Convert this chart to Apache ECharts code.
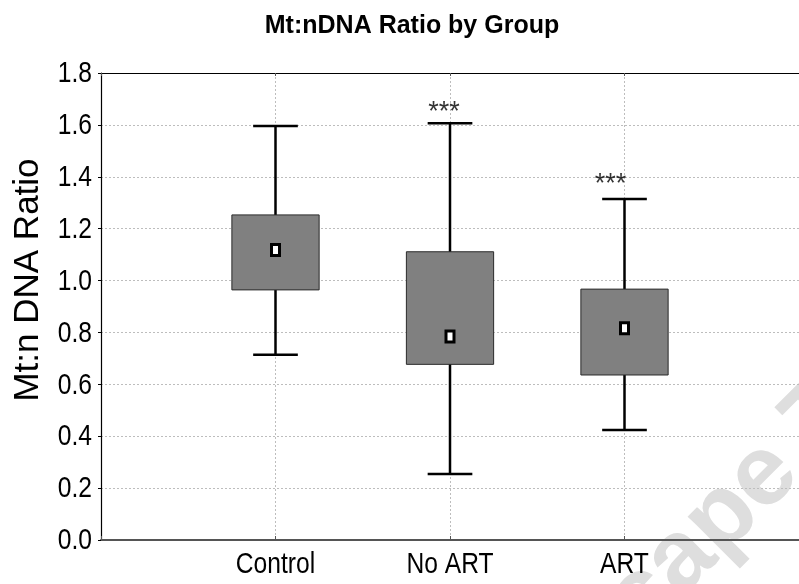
<!DOCTYPE html>
<html><head><meta charset="utf-8">
<script src="https://cdn.jsdelivr.net/npm/echarts@6/dist/echarts.min.js"></script>
<style>html,body{margin:0;padding:0;background:#fff}#c{width:799px;height:584px}</style>
</head><body><div id="c"></div>
<script>
const categories = ['Control', 'No ART', 'ART'];
const catPos = [1, 2, 3];
const whiskerLow = [0.714, 0.254, 0.424];
const q1 = [0.964, 0.677, 0.636];
const median = [1.118, 0.784, 0.816];
const q3 = [1.253, 1.111, 0.967];
const whiskerHigh = [1.596, 1.606, 1.314];
const yTicks = [0, 0.2, 0.4, 0.6, 0.8, 1.0, 1.2, 1.4, 1.6, 1.8];
const yTickLabels = ['0.0', '0.2', '0.4', '0.6', '0.8', '1.0', '1.2', '1.4', '1.6', '1.8'];
const sigLabels = ['***', '***'];
const sigX = [1.966, 2.92];
const sigY = [1.648, 1.37];

const SANS = "'Liberation Sans', Arial, sans-serif";
const NARROW_SCALE = 0.82;

const boxData = catPos.map((x, i) => [x, whiskerLow[i], q1[i], median[i], q3[i], whiskerHigh[i]]);
const sigData = sigX.map((x, i) => ({ value: [x, sigY[i]], label: { formatter: sigLabels[i] } }));

const chart = echarts.init(document.getElementById('c'), null, { renderer: 'canvas' });
chart.setOption({
  animation: false,
  backgroundColor: '#fff',
  grid: { left: 101, right: -4, top: 73, bottom: 44, containLabel: false },
  xAxis: [{
    type: 'value', min: 0, max: 4, interval: 1, position: 'bottom',
    axisLine: { show: true, lineStyle: { color: '#555', width: 2 } },
    axisTick: { show: true, inside: true, length: 4, lineStyle: { color: '#555' } },
    axisLabel: { show: false },
    splitLine: { show: true, lineStyle: { color: '#bdbdbd', width: 1, type: [2, 2] } }
  }, {
    type: 'value', min: 0, max: 4, interval: 1, position: 'top',
    axisLine: { show: true, lineStyle: { color: '#000', width: 1 } },
    axisTick: { show: true, inside: true, length: 3, lineStyle: { color: '#555' } },
    axisLabel: { show: false },
    splitLine: { show: false }
  }],
  yAxis: {
    type: 'value', min: 0, max: 1.8, interval: 0.2,
    axisLine: { show: true, lineStyle: { color: '#000', width: 1.2 } },
    axisTick: { show: true, length: 3, lineStyle: { color: '#000' } },
    axisLabel: { show: false },
    splitLine: { show: true, lineStyle: { color: '#bdbdbd', width: 1, type: [2, 2] } }
  },
  series: [{
    type: 'custom',
    data: boxData,
    encode: { x: 0, y: [1, 2, 3, 4, 5] },
    z: 5,
    renderItem: (params, api) => {
      const x = api.value(0);
      const lo = api.coord([x, api.value(1)]);
      const b1 = api.coord([x, api.value(2)]);
      const md = api.coord([x, api.value(3)]);
      const b3 = api.coord([x, api.value(4)]);
      const hi = api.coord([x, api.value(5)]);
      const boxW = api.size([0.5, 0])[0];
      const capW = api.size([0.256, 0])[0];
      const ls = { stroke: '#000', lineWidth: 2.5 };
      return {
        type: 'group', children: [
          { type: 'line', shape: { x1: lo[0], y1: lo[1], x2: hi[0], y2: hi[1] }, style: ls },
          { type: 'line', shape: { x1: lo[0] - capW / 2, y1: lo[1], x2: lo[0] + capW / 2, y2: lo[1] }, style: ls },
          { type: 'line', shape: { x1: hi[0] - capW / 2, y1: hi[1], x2: hi[0] + capW / 2, y2: hi[1] }, style: ls },
          { type: 'rect', shape: { x: b1[0] - boxW / 2, y: b3[1], width: boxW, height: b1[1] - b3[1] },
            style: { fill: '#808080', stroke: '#2a2a2a', lineWidth: 1 } },
          { type: 'rect', shape: { x: md[0] - 4, y: md[1] - 5.5, width: 8, height: 11 },
            style: { fill: '#fff', stroke: '#000', lineWidth: 3 } }
        ]
      };
    }
  }, {
    type: 'scatter',
    data: sigData,
    symbolSize: 0,
    silent: true,
    z: 6,
    label: { show: true, position: 'inside', color: '#000', fontFamily: SANS, fontSize: 27 }
  }]
});

// Tick labels placed through the library's scales, rendered in a condensed face
const labelFont = "30px 'Liberation Sans', Arial, sans-serif";
const graphics = [];
yTicks.forEach((v, i) => {
  const p = chart.convertToPixel({ gridIndex: 0 }, [0, v]);
  graphics.push({ type: 'text', x: p[0] - 9, y: p[1] + 1, scaleX: NARROW_SCALE, z: 10, silent: true,
    style: { text: yTickLabels[i], font: labelFont, fill: '#000', textAlign: 'right', textVerticalAlign: 'middle' } });
});
categories.forEach((c, i) => {
  const p = chart.convertToPixel({ gridIndex: 0 }, [catPos[i], 0]);
  graphics.push({ type: 'text', x: p[0], y: p[1] + 25, scaleX: NARROW_SCALE, z: 10, silent: true,
    style: { text: c, font: labelFont, fill: '#000', textAlign: 'center', textVerticalAlign: 'middle' } });
});
graphics.push(
  { type: 'text', x: 412, y: 14, z: 10,
    style: { text: 'Mt:nDNA Ratio by Group', font: "bold 25px 'Liberation Sans', Arial, sans-serif", fill: '#000', textAlign: 'center', textVerticalAlign: 'top' } },
  { type: 'text', x: 28, y: 280, rotation: Math.PI / 2, z: 10,
    style: { text: 'Mt:n DNA Ratio', font: "35px 'Liberation Sans', Arial, sans-serif", fill: '#000', textAlign: 'center', textVerticalAlign: 'middle' } },
  { type: 'text', x: 622, y: 618, rotation: Math.PI / 4, z: -1, silent: true,
    style: { text: 'cape T', font: "bold 100px 'Liberation Sans', Arial, sans-serif", fill: '#dedede', textAlign: 'left', textVerticalAlign: 'middle' } }
);
chart.setOption({ graphic: graphics });
</script></body></html>
